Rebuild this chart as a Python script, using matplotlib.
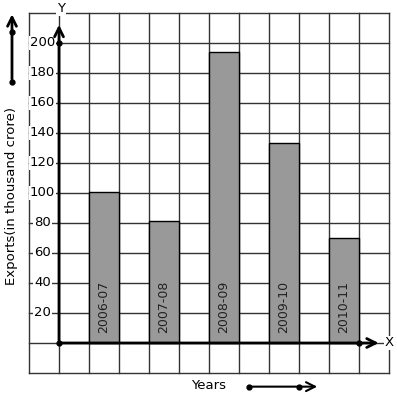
import matplotlib
matplotlib.use("Agg")
import matplotlib.pyplot as plt

years = ["2006-07", "2007-08", "2008-09", "2009-10", "2010-11"]
exports = [101, 81.5, 194, 133.5, 70]
bar_pos = [1.5, 3.5, 5.5, 7.5, 9.5]
y_ticks = [20, 40, 60, 80, 100, 120, 140, 160, 180, 200]

fig = plt.figure(figsize=(3.97, 3.99), dpi=100)
ax = fig.add_axes([0, 0, 1, 1])
ax.set_xlim(-59 / 30, (397 - 59) / 30)
ax.set_ylim((343 - 399) / 1.5, 343 / 1.5)
ax.axis("off")

# graph paper grid
for gx in range(-1, 12):
    ax.plot([gx, gx], [-20, 220], color="#333333", lw=1, zorder=1)
for gy in range(-20, 221, 20):
    ax.plot([-1, 11], [gy, gy], color="#333333", lw=1, zorder=1)

ax.bar(bar_pos, exports, width=1, color="#999999", edgecolor="black", lw=1, zorder=2)
for x, lab in zip(bar_pos, years):
    ax.text(x, 6.5, lab, rotation=90, ha="center", va="bottom", fontsize=9,
            color="#222222", zorder=3)

for t in y_ticks:
    ax.text(-0.55, t, str(t), ha="center", va="center", fontsize=9.5, zorder=3,
            bbox=dict(facecolor="white", edgecolor="none", pad=0.5))

# axes with arrows
ax.annotate("", xy=(0, 214), xytext=(0, 0),
            arrowprops=dict(arrowstyle="->", lw=2, mutation_scale=16), zorder=4)
ax.annotate("", xy=(10.75, 0), xytext=(0, 0),
            arrowprops=dict(arrowstyle="->", lw=2, mutation_scale=16), zorder=4)
ax.plot([0, 0, 10], [0, 200, 0], "o", color="black", ms=3.5, zorder=5)
ax.text(0.07, 223, "Y", ha="center", va="center", fontsize=9.5, zorder=4,
        bbox=dict(facecolor="white", edgecolor="none", pad=0.5))
ax.text(11.0, 0, "X", ha="center", va="center", fontsize=9.5, zorder=4,
        bbox=dict(facecolor="white", edgecolor="none", pad=0.5))

# axis titles with their direction arrows
ax.text(-1.57, 98, "Exports(in thousand crore)", rotation=90, ha="center",
        va="center", fontsize=9.5)
ax.annotate("", xy=(-1.567, 221), xytext=(-1.567, 174),
            arrowprops=dict(arrowstyle="->", lw=2, mutation_scale=16))
ax.plot([-1.567, -1.567], [174, 207.3], "o", color="black", ms=3.5)

ax.text(5.0, -28.5, "Years", ha="center", va="center", fontsize=9.5)
ax.annotate("", xy=(8.7, -29.1), xytext=(6.33, -29.1),
            arrowprops=dict(arrowstyle="->", lw=1.5, mutation_scale=16))
ax.plot([6.33, 8.0], [-29.1, -29.1], "o", color="black", ms=3.5)

fig.savefig("out.png", dpi=100)
